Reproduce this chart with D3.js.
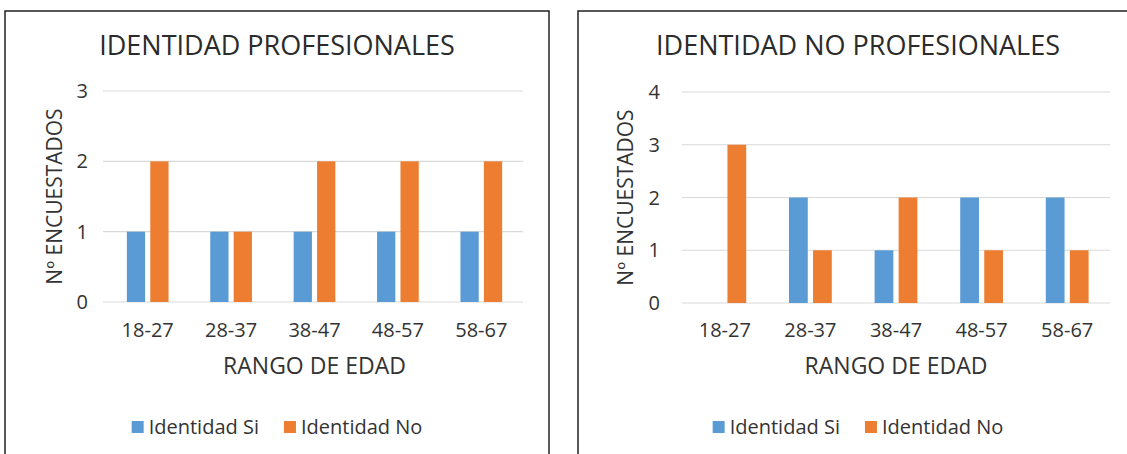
<!DOCTYPE html>
<html>
<head>
<meta charset="utf-8">
<script src="https://cdn.jsdelivr.net/npm/d3@7"></script>
<style>
  html, body { margin: 0; padding: 0; background: #fff; }
  svg { display: block; font-family: "Open Sans", sans-serif; }
</style>
</head>
<body>
<svg id="chart" width="1127" height="454"></svg>
<script>
// ── Data ──────────────────────────────────────────────────────────────────────
const ageRanges   = ['18-27', '28-37', '38-47', '48-57', '58-67'];
const seriesNames = ['Identidad Si', 'Identidad No'];
const seriesColors = ['#5B9BD5', '#ED7D31'];

const profSi   = [1, 1, 1, 1, 1];
const profNo   = [2, 1, 2, 2, 2];
const noProfSi = [0, 2, 1, 2, 2];
const noProfNo = [3, 1, 2, 1, 1];

const profTicks   = [0, 1, 2, 3];
const noProfTicks = [0, 1, 2, 3, 4];

const yTitle = 'Nº ENCUESTADOS';
const xTitle = 'RANGO DE EDAD';

// ── Layout of the two panels ────────────────────────────────────────────────
const panels = [
  {
    title: 'IDENTIDAD PROFESIONALES',
    box: [5, 11, 549, 470],
    plotX: [106, 523], plotY: [302, 91], grid: [103, 523],
    yMax: 3, ticks: profTicks, values: [profSi, profNo],
    tickX: 88, yTitleX: 55
  },
  {
    title: 'IDENTIDAD NO PROFESIONALES',
    box: [578, 11, 1138, 470],
    plotX: [682, 1110], plotY: [303, 92], grid: [682, 1110],
    yMax: 4, ticks: noProfTicks, values: [noProfSi, noProfNo],
    tickX: 660, yTitleX: 626
  }
];

const svg = d3.select('#chart');
const textColor = '#333';

panels.forEach(p => {
  const g = svg.append('g');
  const [bx0, by0, bx1, by1] = p.box;
  const cx = (bx0 + bx1) / 2;

  g.append('rect')
    .attr('x', bx0).attr('y', by0)
    .attr('width', bx1 - bx0).attr('height', by1 - by0)
    .attr('fill', '#fff')
    .attr('stroke', '#222').attr('stroke-width', 1.5);

  const x0 = d3.scaleBand().domain(ageRanges).range(p.plotX)
    .paddingInner(0.5).paddingOuter(0.25);
  const x1 = d3.scaleBand().domain(d3.range(seriesNames.length))
    .range([0, x0.bandwidth()]).paddingInner(0.22);
  const y = d3.scaleLinear().domain([0, p.yMax]).range(p.plotY);

  // gridlines
  g.selectAll('line.grid').data(p.ticks).enter().append('line')
    .attr('class', 'grid')
    .attr('x1', p.grid[0]).attr('x2', p.grid[1])
    .attr('y1', d => y(d)).attr('y2', d => y(d))
    .attr('stroke', '#d9d9d9').attr('stroke-width', 1.2);

  // y tick labels
  g.selectAll('text.ytick').data(p.ticks).enter().append('text')
    .attr('class', 'ytick')
    .attr('x', p.tickX).attr('y', d => y(d))
    .attr('dy', '0.35em')
    .attr('text-anchor', 'end')
    .attr('font-size', 20).attr('fill', textColor)
    .text(d => d);

  // bars
  p.values.forEach((vals, si) => {
    g.selectAll(`rect.bar-${si}`).data(vals).enter().append('rect')
      .attr('class', `bar-${si}`)
      .attr('x', (d, i) => x0(ageRanges[i]) + x1(si))
      .attr('width', x1.bandwidth())
      .attr('y', d => y(d))
      .attr('height', d => y(0) - y(d))
      .attr('fill', seriesColors[si]);
  });

  // x tick labels
  g.selectAll('text.xtick').data(ageRanges).enter().append('text')
    .attr('class', 'xtick')
    .attr('x', d => x0(d) + x0.bandwidth() / 2)
    .attr('y', 330).attr('dy', '0.35em')
    .attr('text-anchor', 'middle')
    .attr('font-size', 20).attr('fill', textColor)
    .text(d => d);

  // titles
  g.append('text')
    .attr('x', cx).attr('y', 46).attr('dy', '0.35em')
    .attr('text-anchor', 'middle')
    .attr('font-size', 27).attr('fill', '#2b2b2b')
    .text(p.title);

  g.append('text')
    .attr('x', (p.plotX[0] + p.plotX[1]) / 2).attr('y', 366).attr('dy', '0.35em')
    .attr('text-anchor', 'middle')
    .attr('font-size', 23).attr('fill', textColor)
    .text(xTitle);

  g.append('text')
    .attr('transform', `translate(${p.yTitleX},${(p.plotY[0] + p.plotY[1]) / 2}) rotate(-90)`)
    .attr('dy', '0.35em')
    .attr('text-anchor', 'middle')
    .attr('font-size', 21).attr('fill', textColor)
    .text(yTitle);

  // legend, centred in the panel
  const lg = g.append('g');
  let lx = 0;
  seriesNames.forEach((name, i) => {
    const item = lg.append('g').attr('transform', `translate(${lx},0)`);
    item.append('rect')
      .attr('x', 0).attr('y', -6).attr('width', 12).attr('height', 12)
      .attr('fill', seriesColors[i]);
    const t = item.append('text')
      .attr('x', 17).attr('dy', '0.35em')
      .attr('font-size', 20).attr('fill', textColor)
      .text(name);
    lx += 17 + t.node().getComputedTextLength() + 25;
  });
  const lw = lx - 25;
  lg.attr('transform', `translate(${cx - lw / 2},427)`);
});
</script>
</body>
</html>
